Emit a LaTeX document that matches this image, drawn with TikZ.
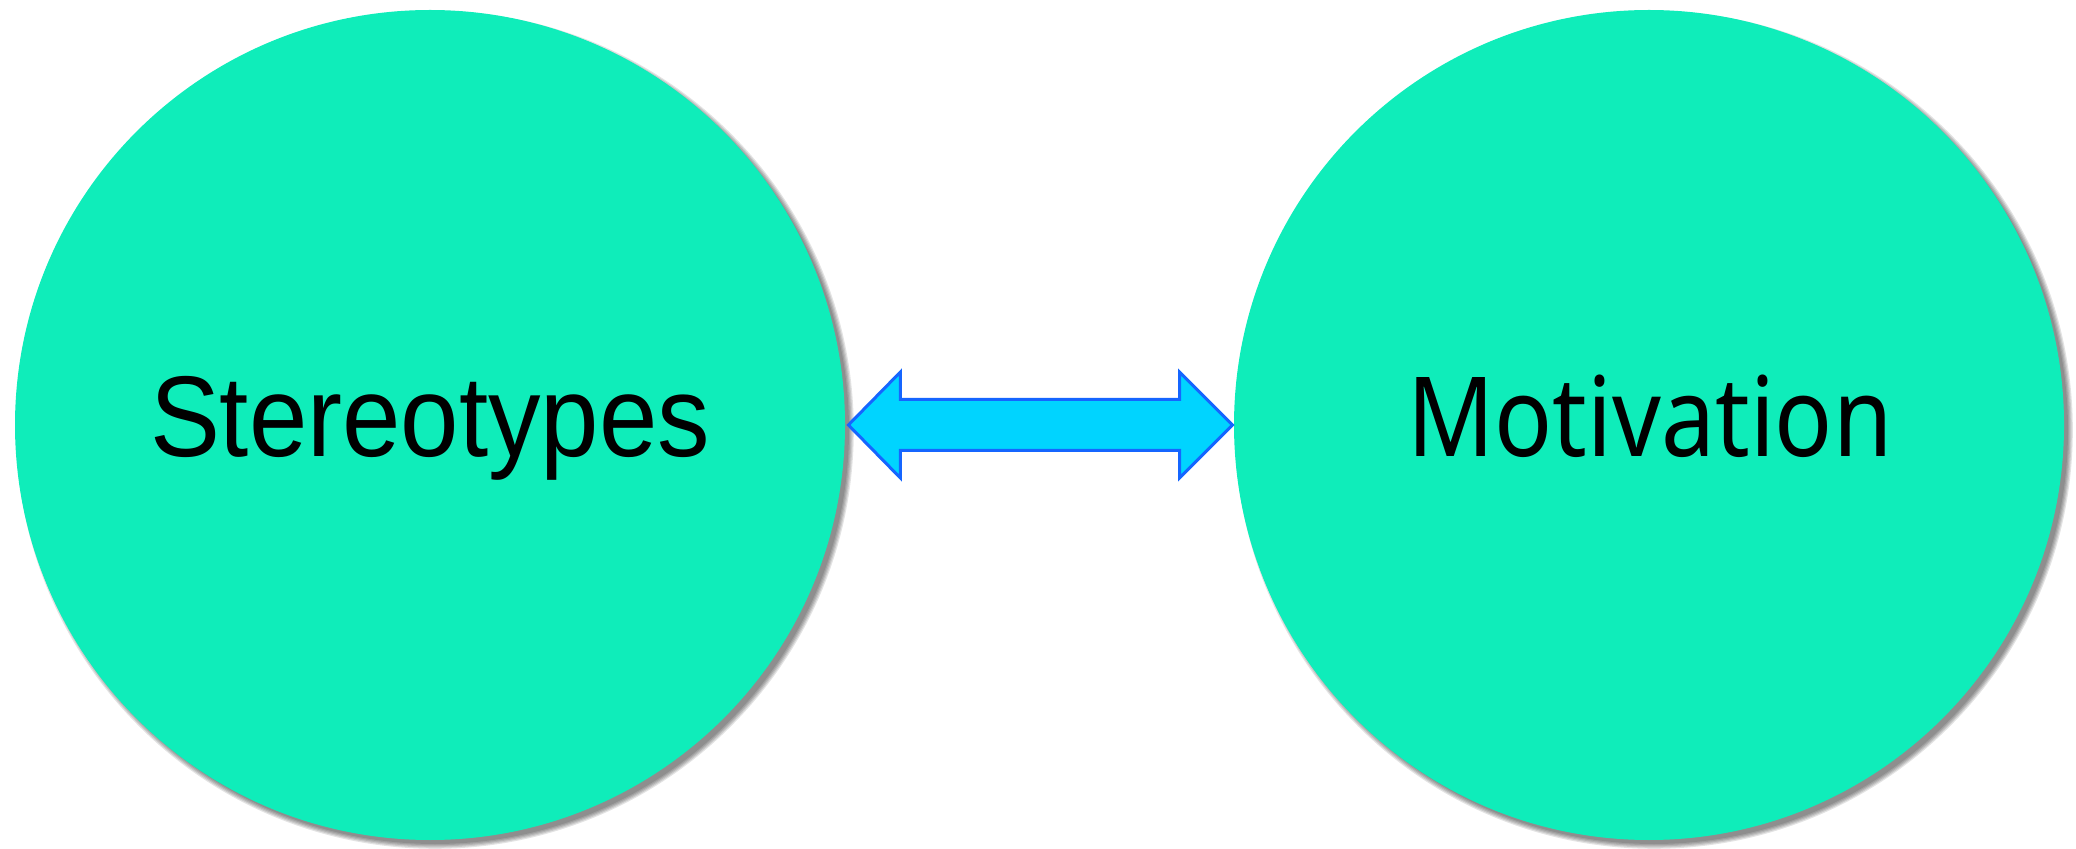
\documentclass[tikz,border=0pt]{standalone}
\usepackage{fontspec}
\setmainfont{Liberation Sans}
\newfontfamily\motfont{Noto Sans}
\usetikzlibrary{calc}
\definecolor{circfill}{HTML}{0FEDBA}
\definecolor{arrfill}{HTML}{00D4FF}
\definecolor{arrline}{HTML}{1565FF}
\newlength\fitw
\newlength\fith
\newcommand\fitlabel[4]{{#1\settowidth\fitw{#4}\settoheight\fith{M}%
  \pgfmathsetmacro\fitsx{#2/\fitw}\pgfmathsetmacro\fitsy{#3/\fith}%
  \scalebox{\fitsx}[\fitsy]{#4}}}
\tikzset{
  bubble/.style={circle, fill=circfill, minimum size=415pt, inner sep=0pt},
  bubbletext/.style={anchor=base, inner sep=0pt, text=black},
  linkarrow/.style={fill=arrfill, draw=arrline, line width=1.5pt, line join=miter},
  softshadow/.style={fill=black, opacity=0.11}
}
\begin{document}
\begin{tikzpicture}[x=0.5pt, y=-0.5pt]
  \useasboundingbox (0,0) rectangle (2076,849);
  % shadows
  \foreach \r in {207,207.6,208.2,208.8,209.4}{
    \fill[softshadow] (435,430) circle[radius=\r pt];
    \fill[softshadow] (1654,430) circle[radius=\r pt];
  }
  \node[bubble] (L) at (430,425) {};
  \node[bubble] (R) at (1649,425) {};
  \node[bubbletext] (Lt) at (430,457)
    {\fitlabel{\fontsize{55}{60}\selectfont}{280}{39.5}{Stereotypes}};
  \node[bubbletext] (Rt) at (1650,457)
    {\fitlabel{\motfont\fontsize{55}{60}\selectfont}{242.5}{39.5}{Motivation}};
  % double arrow between the circles
  \coordinate (ltip) at ($(L.east)+(3,0)$);
  \coordinate (rtip) at ($(R.west)+(-1,0)$);
  \draw[linkarrow] (ltip) -- ++(52,-53) -- ++(0,27.5)
    -- ($(rtip)+(-53,-25.5)$) -- ++(0,-27.5) -- (rtip)
    -- ++(-53,53) -- ++(0,-27.5) -- ($(ltip)+(52,25.5)$)
    -- ++(0,27.5) -- cycle;
\end{tikzpicture}
\end{document}
